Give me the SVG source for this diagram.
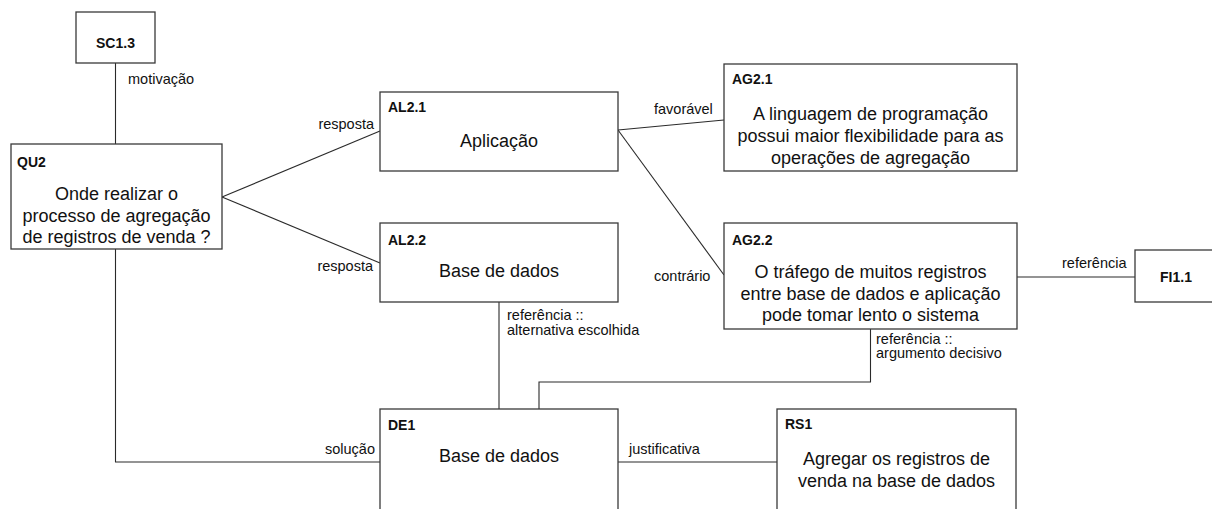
<svg xmlns="http://www.w3.org/2000/svg" width="1212" height="509" viewBox="0 0 1212 509">
  <style>
    .box { fill: #ffffff; stroke: #3a3a3a; stroke-width: 1.3; }
    .wire { fill: none; stroke: #2a2a2a; stroke-width: 1.1; }
    .id { font-family: "Liberation Sans", Arial, sans-serif; font-size: 14px; font-weight: bold; fill: #111; }
    .body { font-family: "Liberation Sans", Arial, sans-serif; font-size: 18px; fill: #111; text-anchor: middle; }
    .lbl { font-family: "Liberation Sans", Arial, sans-serif; font-size: 14.5px; fill: #111; }
  </style>
  <rect width="1212" height="509" fill="#ffffff"/>

  <!-- connectors -->
  <g id="connectors">
    <line class="wire" x1="115.5" y1="63" x2="115.5" y2="144"/>
    <line class="wire" x1="222" y1="197" x2="380" y2="131"/>
    <line class="wire" x1="222" y1="197" x2="380" y2="263"/>
    <line class="wire" x1="618" y1="130" x2="724" y2="120"/>
    <line class="wire" x1="618" y1="130" x2="724" y2="275"/>
    <line class="wire" x1="1017" y1="277" x2="1135" y2="277"/>
    <line class="wire" x1="499" y1="302" x2="499" y2="409"/>
    <polyline class="wire" points="870.5,329 870.5,382 539,382 539,409"/>
    <polyline class="wire" points="115.5,249 115.5,462 380,462"/>
    <line class="wire" x1="618" y1="462" x2="777" y2="462"/>

    <text class="lbl" x="128" y="84">motivação</text>
    <text class="lbl" x="374" y="129" text-anchor="end">resposta</text>
    <text class="lbl" x="373" y="271" text-anchor="end">resposta</text>
    <text class="lbl" x="654" y="114">favorável</text>
    <text class="lbl" x="654" y="281">contrário</text>
    <text class="lbl" x="1062" y="268">referência</text>
    <text class="lbl" x="507" y="320">referência ::</text>
    <text class="lbl" x="507" y="335">alternativa escolhida</text>
    <text class="lbl" x="876" y="344">referência ::</text>
    <text class="lbl" x="876" y="358">argumento decisivo</text>
    <text class="lbl" x="375" y="454" text-anchor="end">solução</text>
    <text class="lbl" x="629" y="454">justificativa</text>
  </g>

  <g id="SC1.3">
    <rect class="box" x="76" y="12" width="79" height="51"/>
    <text class="id" x="115.5" y="48" text-anchor="middle">SC1.3</text>
  </g>

  <g id="QU2">
    <rect class="box" x="11" y="144" width="211" height="105"/>
    <text class="id" x="17" y="167">QU2</text>
    <text class="body" x="116.5" y="200">Onde realizar o</text>
    <text class="body" x="116.5" y="221.5">processo de agregação</text>
    <text class="body" x="116.5" y="243">de registros de venda ?</text>
  </g>

  <g id="AL2.1">
    <rect class="box" x="380" y="92" width="238" height="79"/>
    <text class="id" x="388" y="112">AL2.1</text>
    <text class="body" x="499" y="147">Aplicação</text>
  </g>

  <g id="AL2.2">
    <rect class="box" x="380" y="223" width="238" height="79"/>
    <text class="id" x="388" y="245">AL2.2</text>
    <text class="body" x="499" y="277">Base de dados</text>
  </g>

  <g id="AG2.1">
    <rect class="box" x="724" y="64" width="293" height="107"/>
    <text class="id" x="732" y="84">AG2.1</text>
    <text class="body" x="870.5" y="120">A linguagem de programação</text>
    <text class="body" x="870.5" y="142">possui maior flexibilidade para as</text>
    <text class="body" x="870.5" y="164">operações de agregação</text>
  </g>

  <g id="AG2.2">
    <rect class="box" x="724" y="223" width="293" height="106"/>
    <text class="id" x="732" y="245">AG2.2</text>
    <text class="body" x="870.5" y="278">O tráfego de muitos registros</text>
    <text class="body" x="870.5" y="299.5">entre base de dados e aplicação</text>
    <text class="body" x="870.5" y="321">pode tomar lento o sistema</text>
  </g>

  <g id="FI1.1">
    <rect class="box" x="1135" y="250" width="84" height="52"/>
    <text class="id" x="1176" y="282" text-anchor="middle">FI1.1</text>
  </g>

  <g id="DE1">
    <rect class="box" x="380" y="409" width="238" height="110"/>
    <text class="id" x="388" y="430">DE1</text>
    <text class="body" x="499" y="462">Base de dados</text>
  </g>

  <g id="RS1">
    <rect class="box" x="777" y="409" width="239" height="110"/>
    <text class="id" x="785" y="429">RS1</text>
    <text class="body" x="896.5" y="465">Agregar os registros de</text>
    <text class="body" x="896.5" y="487">venda na base de dados</text>
  </g>
</svg>
